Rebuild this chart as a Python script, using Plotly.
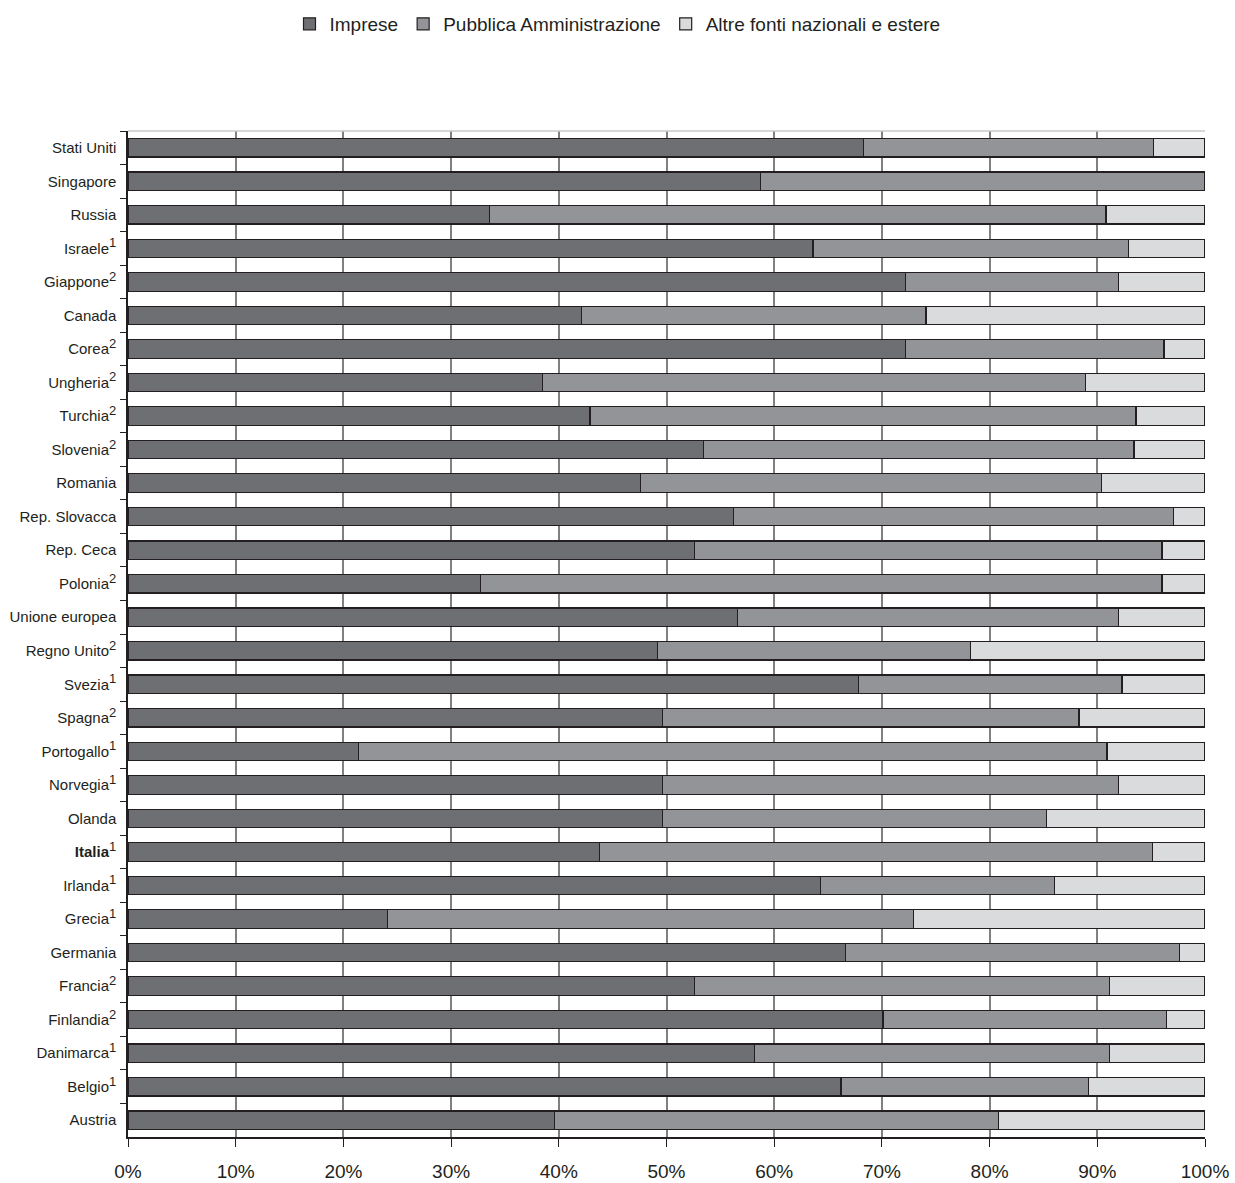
import plotly.graph_objects as go

SUP = '<sup><span style="font-size:13px">{}</span></sup>'

countries = ["Stati Uniti", "Singapore", "Russia", "Israele" + SUP.format(1), "Giappone" + SUP.format(2),
             "Canada", "Corea" + SUP.format(2), "Ungheria" + SUP.format(2), "Turchia" + SUP.format(2),
             "Slovenia" + SUP.format(2), "Romania", "Rep. Slovacca", "Rep. Ceca", "Polonia" + SUP.format(2),
             "Unione europea", "Regno Unito" + SUP.format(2), "Svezia" + SUP.format(1), "Spagna" + SUP.format(2),
             "Portogallo" + SUP.format(1), "Norvegia" + SUP.format(1), "Olanda", "<b>Italia</b>" + SUP.format(1),
             "Irlanda" + SUP.format(1), "Grecia" + SUP.format(1), "Germania", "Francia" + SUP.format(2),
             "Finlandia" + SUP.format(2), "Danimarca" + SUP.format(1), "Belgio" + SUP.format(1), "Austria"]

imprese = [68.3, 58.7, 33.6, 63.6, 72.2, 42.1, 72.2, 38.5, 42.9, 53.4, 47.6, 56.2, 52.6, 32.7,
           56.6, 49.2, 67.8, 49.6, 21.4, 49.6, 49.6, 43.8, 64.3, 24.1, 66.6, 52.6, 70.1, 58.2,
           66.2, 39.6]
pa_cum = [95.2, 100.0, 90.8, 92.9, 92.0, 74.1, 96.2, 88.9, 93.6, 93.4, 90.4, 97.1, 96.0, 96.0,
          92.0, 78.2, 92.3, 88.3, 90.9, 92.0, 85.3, 95.1, 86.0, 72.9, 97.6, 91.1, 96.4, 91.1,
          89.2, 80.8]
pubblica = [round(p - i, 1) for p, i in zip(pa_cum, imprese)]
altre = [round(100 - p, 1) for p in pa_cum]

x_ticks = [0, 10, 20, 30, 40, 50, 60, 70, 80, 90, 100]
x_tick_labels = [f"{v}%" for v in x_ticks]

series = [
    ("Imprese", imprese, "#6e6f73"),
    ("Pubblica Amministrazione", pubblica, "#939498"),
    ("Altre fonti nazionali e estere", altre, "#dadbdd"),
]

font_family = "Liberation Sans, Arial, sans-serif"

fig = go.Figure()
for name, vals, col in series:
    fig.add_trace(go.Bar(
        y=countries, x=vals, name=name, orientation="h",
        marker=dict(color=col, line=dict(color="#231f20", width=1.2)),
    ))

fig.update_layout(
    barmode="stack",
    bargap=0.45,
    width=1235, height=1183,
    margin=dict(l=128, r=30, t=131, b=46, autoexpand=False),
    paper_bgcolor="white", plot_bgcolor="white",
    font=dict(family=font_family, color="#231f20"),
    legend=dict(orientation="h", x=0.5, xanchor="center", xref="container",
                y=1 - 24 / 1183, yanchor="middle", yref="container",
                font=dict(size=19, family=font_family, color="#231f20"), traceorder="normal",
                itemwidth=30, bgcolor="rgba(0,0,0,0)"),
    showlegend=True,
)

fig.update_xaxes(
    range=[0, 100], tickvals=x_ticks, ticktext=x_tick_labels,
    showgrid=True, gridcolor="#808080", gridwidth=1.5,
    ticks="outside", ticklen=8, tickcolor="#231f20", tickwidth=1,
    showline=True, linecolor="#231f20", linewidth=1.5,
    tickfont=dict(size=19, family=font_family, color="#231f20"),
    ticklabelstandoff=8, fixedrange=True, zeroline=False, automargin=False,
)
fig.update_yaxes(
    categoryorder="array", categoryarray=countries, autorange="reversed",
    ticks="outside", tickson="boundaries", ticklen=6, tickcolor="#231f20",
    showline=True, linecolor="#231f20", linewidth=1.5,
    tickfont=dict(size=15, family=font_family, color="#231f20"),
    showgrid=False, mirror=False, ticklabelstandoff=7, automargin=False,
)

# thin light border on top of the plot area
fig.add_shape(type="line", xref="paper", yref="paper", x0=0, x1=1, y0=1, y1=1,
              line=dict(color="#c8c8c8", width=1.5))

fig.write_html("out.html", config={"displayModeBar": False},
               post_script="document.body.style.margin='0px';document.body.style.overflow='hidden';")
